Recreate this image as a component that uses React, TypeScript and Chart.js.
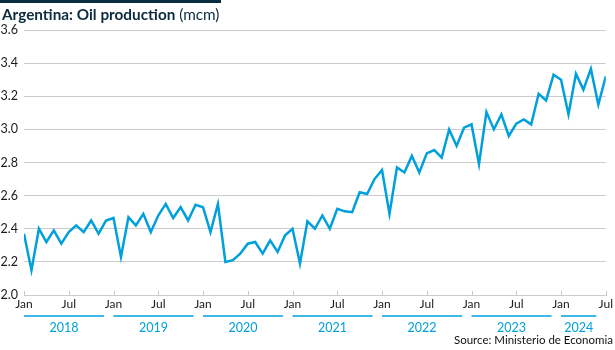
import React, { useEffect, useRef } from "react";
import { Chart, registerables } from "chart.js";

Chart.register(...registerables);

const years = ["2018", "2019", "2020", "2021", "2022", "2023", "2024"];
const monthTickLabels = ["Jan", "Jul"];
const yTicks = [2.0, 2.2, 2.4, 2.6, 2.8, 3.0, 3.2, 3.4, 3.6];

const prod2018 = [2.37, 2.15, 2.40, 2.32, 2.39, 2.31, 2.38, 2.42, 2.38, 2.45, 2.37, 2.45];
const prod2019 = [2.465, 2.23, 2.47, 2.42, 2.49, 2.38, 2.48, 2.55, 2.465, 2.53, 2.45, 2.545];
const prod2020 = [2.53, 2.38, 2.55, 2.20, 2.21, 2.25, 2.31, 2.32, 2.25, 2.33, 2.26, 2.36];
const prod2021 = [2.40, 2.19, 2.445, 2.40, 2.48, 2.40, 2.52, 2.505, 2.50, 2.62, 2.61, 2.70];
const prod2022 = [2.755, 2.49, 2.77, 2.74, 2.84, 2.74, 2.855, 2.875, 2.83, 3.00, 2.90, 3.01];
const prod2023 = [3.03, 2.79, 3.105, 3.00, 3.09, 2.96, 3.035, 3.06, 3.03, 3.215, 3.175, 3.33];
const prod2024 = [3.30, 3.09, 3.335, 3.24, 3.365, 3.15, 3.32];

const production = [
  ...prod2018, ...prod2019, ...prod2020, ...prod2021, ...prod2022, ...prod2023, ...prod2024,
];

const BLUE = "#00a0dc";
const FONT = "Lato";

const yearPlugin = {
  id: "yearGroups",
  afterDraw(chart: any) {
    const { ctx, chartArea, scales } = chart;
    const x = scales.x;
    const bottom = chartArea.bottom;
    ctx.save();
    // tick marks
    ctx.strokeStyle = "#c8c8c8";
    ctx.lineWidth = 1;
    for (let m = 0; m <= production.length - 1; m += 6) {
      const px = Math.round(x.getPixelForValue(m)) + 0.5;
      ctx.beginPath();
      ctx.moveTo(px, bottom - 4);
      ctx.lineTo(px, bottom + 1);
      ctx.stroke();
    }
    // year lines and labels
    ctx.font = `12.5px ${FONT}`;
    ctx.fillStyle = BLUE;
    ctx.textAlign = "center";
    ctx.textBaseline = "middle";
    years.forEach((yr, i) => {
      const startIdx = i * 12;
      const endIdx = Math.min(i * 12 + 11, production.length - 2);
      const x0 = x.getPixelForValue(startIdx);
      const x1 = x.getPixelForValue(endIdx) - 2;
      ctx.strokeStyle = BLUE;
      ctx.lineWidth = 1.5;
      ctx.beginPath();
      ctx.moveTo(x0, bottom + 21);
      ctx.lineTo(x1, bottom + 21);
      ctx.stroke();
      ctx.fillText(yr, (x0 + x1) / 2, bottom + 33);
    });
    ctx.restore();
  },
};

export default function App() {
  const ref = useRef<HTMLCanvasElement | null>(null);

  useEffect(() => {
    if (!ref.current) return;
    const chart = new Chart(ref.current, {
      type: "line",
      data: {
        datasets: [
          {
            data: production.map((v, i) => ({ x: i, y: v })),
            borderColor: BLUE,
            borderWidth: 2.5,
            pointRadius: 0,
            tension: 0,
            fill: false,
          },
        ],
      },
      options: {
        animation: false,
        responsive: false,
        devicePixelRatio: 1,
        layout: { padding: { top: 30, right: 9, left: 0, bottom: 0 } },
        plugins: {
          legend: { display: false },
          tooltip: { enabled: false },
          title: { display: false },
        },
        scales: {
          x: {
            type: "linear",
            min: 0,
            max: production.length - 1,
            afterFit: (s: any) => {
              s.height = 55;
            },
            afterBuildTicks: (s: any) => {
              const t = [];
              for (let m = 0; m <= production.length - 1; m += 6) t.push({ value: m });
              s.ticks = t;
            },
            ticks: {
              autoSkip: false,
              maxRotation: 0,
              padding: 2,
              color: "#1a1a1a",
              font: { family: FONT, size: 12 },
              callback: (v: any) => monthTickLabels[(Number(v) % 12) / 6],
            },
            grid: { display: false, drawTicks: false },
            border: { display: false },
          },
          y: {
            min: yTicks[0],
            max: yTicks[yTicks.length - 1],
            afterFit: (s: any) => {
              s.width = 24;
            },
            afterBuildTicks: (s: any) => {
              s.ticks = yTicks.map((v) => ({ value: v }));
            },
            ticks: {
              padding: 6,
              color: "#1a1a1a",
              font: { family: FONT, size: 12.5 },
              callback: (v: any) => Number(v).toFixed(1),
            },
            grid: { color: "#cccccc", lineWidth: 1, drawTicks: false },
            border: { display: false },
          },
        },
      },
      plugins: [yearPlugin],
    });
    return () => chart.destroy();
  }, []);

  return (
    <div style={{ position: "absolute", left: 0, top: 0, width: 615, height: 350, background: "#fff" }}>
      <canvas ref={ref} width={615} height={350} style={{ position: "absolute", left: 0, top: 0 }} />
      <div style={{ position: "absolute", left: 0, top: 0, width: 221, height: 3, background: "#0b2b3f" }} />
      <div
        style={{
          position: "absolute",
          left: 2,
          top: 5,
          fontFamily: FONT,
          fontSize: 15.3,
          lineHeight: "18px",
          color: "#0b2b3f",
          whiteSpace: "nowrap",
        }}
      >
        <span style={{ fontWeight: 700 }}>Argentina: Oil production</span> (mcm)
      </div>
      <div
        style={{
          position: "absolute",
          right: 2,
          top: 333,
          fontFamily: FONT,
          fontSize: 11.5,
          lineHeight: "14px",
          color: "#111",
          whiteSpace: "nowrap",
        }}
      >
        Source: Ministerio de Economia
      </div>
    </div>
  );
}
